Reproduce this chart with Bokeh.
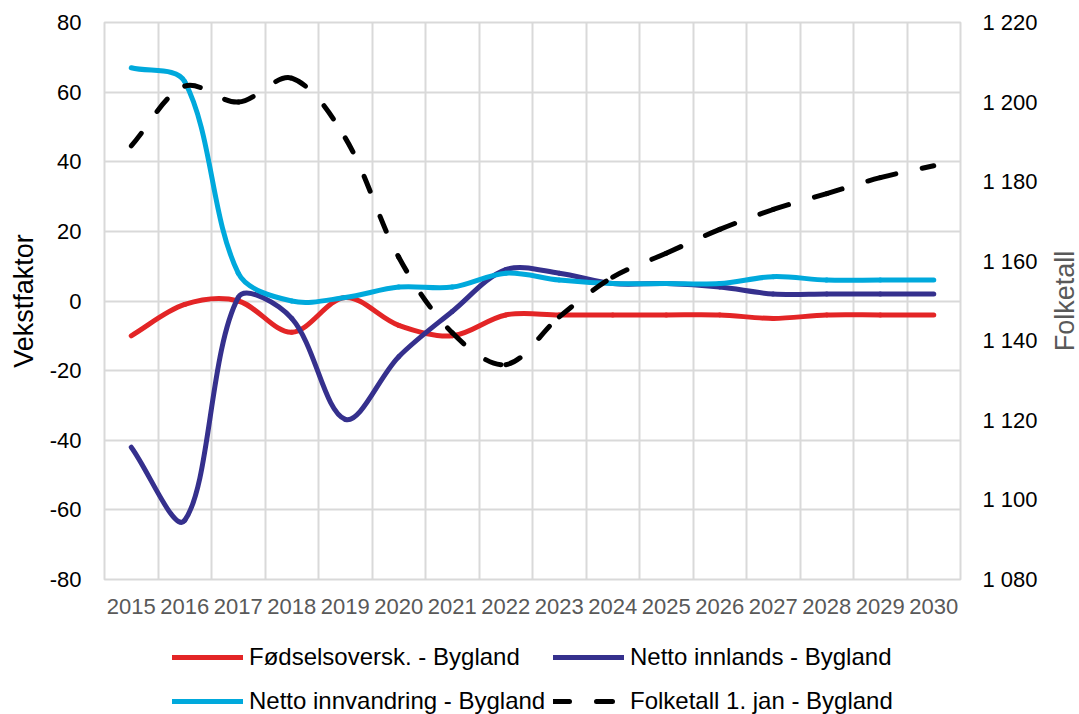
import numpy as np
from bokeh.plotting import figure
from bokeh.layouts import column, row
from bokeh.models import (Range1d, LinearAxis, FixedTicker, CustomJSTickFormatter,
                          Legend, LegendItem, ColumnDataSource, Label)
from bokeh.embed import file_html
from bokeh.resources import INLINE

# ---------------- data ----------------
years = list(range(2015, 2031))
fodselsoversk = [-10, -1, 0, -9, 1, -7, -10, -4, -4, -4, -4, -4, -5, -4, -4, -4]
netto_innlands = [-42, -63, 1, -5, -34, -16, -3, 9, 8, 5, 5, 4, 2, 2, 2, 2]
netto_innvandring = [67, 63, 8, 0, 1, 4, 4, 8, 6, 5, 5, 5, 7, 6, 6, 6]
folketall = [1189, 1204, 1200, 1206, 1191, 1161, 1142, 1134, 1146, 1156, 1162, 1168,
             1173, 1177, 1181, 1184]

left_ticks = [-80, -60, -40, -20, 0, 20, 40, 60, 80]
right_ticks = [1080, 1100, 1120, 1140, 1160, 1180, 1200, 1220]

series_names = ["Fødselsoversk. - Bygland", "Netto innlands - Bygland",
                "Netto innvandring - Bygland", "Folketall 1. jan - Bygland"]
colors = ["#E32526", "#35308D", "#00A9DC", "#000000"]

FONT = "Liberation Sans"

# layout (pixels)
W = 1079
W_SIDE = 29                                  # strip carrying the right axis title
W_MAIN = W - W_SIDE
H_MAIN, H_LEG = 630, 84
FL, FR, FT, FB = 104, 960, 22, 579          # frame edges


def smooth_segments(xs, ys, sx, sy):
    """Bezier control points for an Excel-like smoothed line through the data points.
    Tangent at each point follows its neighbours, scaled by the on-screen segment lengths."""
    X = np.asarray(xs, float)
    Y = np.asarray(ys, float)
    d = np.hypot(np.diff(X) * sx, np.diff(Y) * sy)
    dpad = np.concatenate([[0.0], d, [0.0]])
    Xp = np.concatenate([[X[0]], X, [X[-1]]])
    Yp = np.concatenate([[Y[0]], Y, [Y[-1]]])
    Tx = Xp[2:] - Xp[:-2]
    Ty = Yp[2:] - Yp[:-2]
    tot = dpad[:-1] + dpad[1:]
    fout = dpad[1:] / tot / 3.0
    fin = dpad[:-1] / tot / 3.0
    return dict(
        x0=X[:-1], y0=Y[:-1], x1=X[1:], y1=Y[1:],
        cx0=X[:-1] + Tx[:-1] * fout[:-1],
        cy0=Y[:-1] + Ty[:-1] * fout[:-1],
        cx1=X[1:] - Tx[1:] * fin[1:],
        cy1=Y[1:] - Ty[1:] * fin[1:],
    )


p = figure(width=W_MAIN, height=H_MAIN,
           x_range=Range1d(years[0] - 0.5, years[-1] + 0.5),
           y_range=Range1d(left_ticks[0], left_ticks[-1]),
           output_backend="svg", toolbar_location=None,
           min_border_left=FL, min_border_right=W_MAIN - FR, min_border_top=FT,
           min_border_bottom=H_MAIN - FB)
p.extra_y_ranges = {"pop": Range1d(right_ticks[0], right_ticks[-1])}
p.outline_line_color = "#D9D9D9"
p.outline_line_width = 2
p.background_fill_color = "white"
p.border_fill_color = "white"

# grid
p.xgrid.ticker = FixedTicker(ticks=[y - 0.5 for y in years] + [years[-1] + 0.5])
p.grid.grid_line_color = "#D9D9D9"
p.grid.grid_line_width = 2

# x axis
xa = p.xaxis[0]
xa.ticker = FixedTicker(ticks=years)
xa.major_label_text_font = FONT
xa.major_label_text_font_size = "22px"
xa.major_label_text_color = "#595959"
xa.major_label_standoff = 19

# left axis
ya = p.yaxis[0]
ya.ticker = FixedTicker(ticks=left_ticks)
ya.formatter = CustomJSTickFormatter(code="return tick.toFixed(0);")
ya.major_label_text_font = FONT
ya.major_label_text_font_size = "22px"
ya.major_label_text_color = "black"
ya.major_label_standoff = 23
ya.axis_label = "Vekstfaktor"
ya.axis_label_text_font = FONT
ya.axis_label_text_font_size = "27px"
ya.axis_label_text_font_style = "normal"
ya.axis_label_text_color = "black"
ya.axis_label_standoff = 8

# right axis (ticks); its title sits in the narrow strip to the right
ra = LinearAxis(y_range_name="pop", ticker=FixedTicker(ticks=right_ticks),
                formatter=CustomJSTickFormatter(
                    code=r"return Math.round(tick).toString().replace(/\B(?=(\d{3})+(?!\d))/g, ' ');"))
ra.major_label_text_font = FONT
ra.major_label_text_font_size = "22px"
ra.major_label_text_color = "black"
ra.major_label_standoff = 22
p.add_layout(ra, "right")

for ax in (xa, ya, ra):
    ax.axis_line_color = None
    ax.major_tick_line_color = None
    ax.minor_tick_line_color = None
    ax.major_tick_in = 0
    ax.major_tick_out = 0

# on-screen scale (px per unit) used only for the smoothing weights
sx = (FR - FL) / len(years)
sy_left = (FB - FT) / (left_ticks[-1] - left_ticks[0])
sy_right = (FB - FT) / (right_ticks[-1] - right_ticks[0])

all_series = [fodselsoversk, netto_innlands, netto_innvandring, folketall]
series = [(fodselsoversk, colors[0], None, "default", sy_left),
          (netto_innlands, colors[1], None, "default", sy_left),
          (netto_innvandring, colors[2], None, "default", sy_left),
          (folketall, colors[3], "16 27", "pop", sy_right)]
styles = []
for vals, col, dash, yr, sy in series:
    src = ColumnDataSource(smooth_segments(years, vals, sx, sy))
    kw = dict(line_color=col, line_width=5, line_cap="round")
    if dash:
        kw["line_dash"] = dash
    styles.append(dict(kw))
    if yr != "default":
        kw["y_range_name"] = yr
    p.bezier(x0="x0", y0="y0", x1="x1", y1="y1", cx0="cx0", cy0="cy0",
             cx1="cx1", cy1="cy1", source=src, **kw)

# ---------------- right axis title strip ----------------
ps = figure(width=W_SIDE, height=H_MAIN, x_range=Range1d(0, 1), y_range=Range1d(0, 1),
            output_backend="svg", toolbar_location=None,
            min_border_left=0, min_border_right=0, min_border_top=FT,
            min_border_bottom=H_MAIN - FB)
ps.axis.visible = False
ps.grid.visible = False
ps.outline_line_color = None
ps.background_fill_color = "white"
ps.border_fill_color = "white"
ps.add_layout(Label(x=0.5, y=0.5, text="Folketall", angle=np.pi / 2,
                    text_align="center", text_baseline="middle",
                    text_font=FONT, text_font_size="27px", text_color="#595959"))

# ---------------- legend strip under the chart ----------------
pl = figure(width=W, height=H_LEG, x_range=Range1d(0, 1), y_range=Range1d(0, 1),
            output_backend="svg", toolbar_location=None,
            min_border_left=FL, min_border_right=W - FR, min_border_top=0, min_border_bottom=0)
pl.axis.visible = False
pl.grid.visible = False
pl.outline_line_color = None
pl.background_fill_color = "white"
pl.border_fill_color = "white"
# swatch renderers: the series themselves, lying outside this strip's (0..1) view
swatches = [pl.line(x=years, y=vals, **st) for vals, st in zip(all_series, styles)]


def make_legend(idx, loc):
    leg = Legend(items=[LegendItem(label=series_names[i], renderers=[swatches[i]]) for i in idx],
                 location=loc, orientation="vertical")
    leg.glyph_width = 71
    leg.glyph_height = 26
    leg.label_height = 26
    leg.label_standoff = 6
    leg.spacing = 16
    leg.padding = 0
    leg.margin = 0
    leg.border_line_color = None
    leg.background_fill_alpha = 0
    leg.label_text_font = FONT
    leg.label_text_font_size = "24px"
    leg.label_text_color = "black"
    return leg


pl.add_layout(make_legend([0, 2], (172 - FL, -1)))
pl.add_layout(make_legend([1, 3], (553 - FL, -1)))

layout = column(row(p, ps, spacing=0), pl, spacing=0)
open("out.html", "w").write(file_html(layout, INLINE))
